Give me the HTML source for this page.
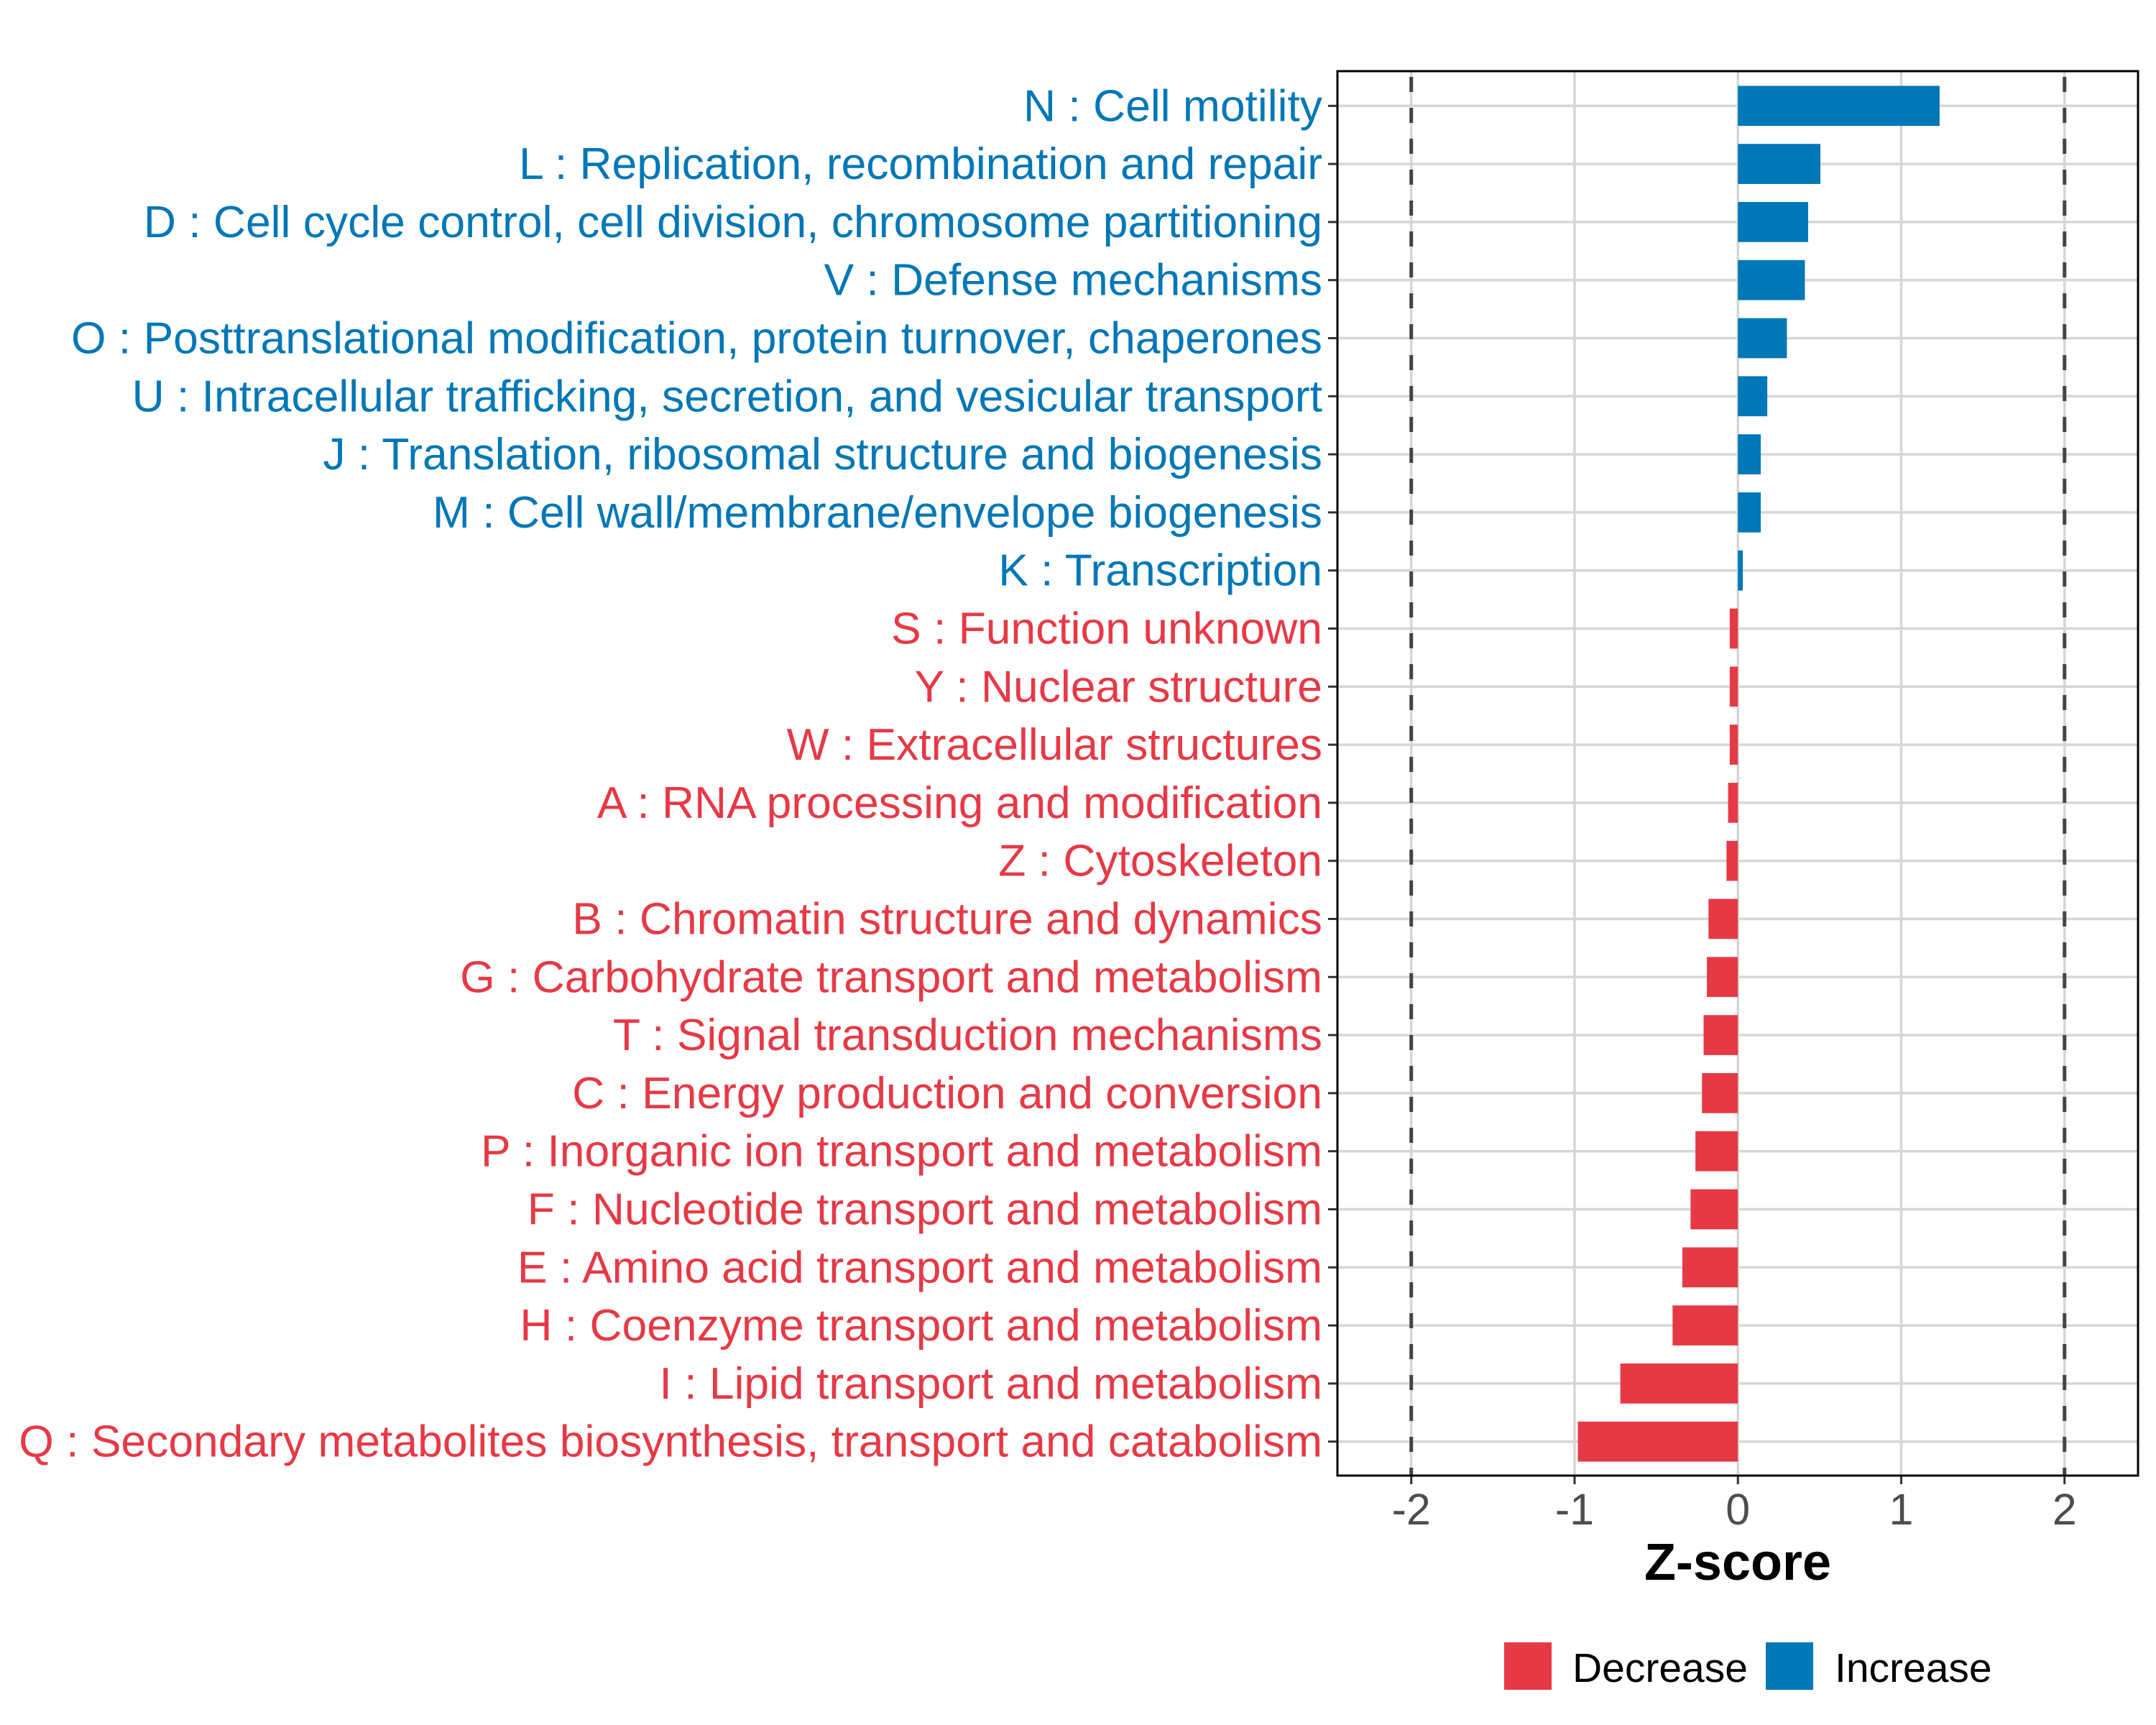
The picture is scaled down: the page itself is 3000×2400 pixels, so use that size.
<!DOCTYPE html>
<html><head><meta charset="utf-8"><style>
html,body{margin:0;padding:0;background:#fff;}
svg{display:block;font-family:"Liberation Sans",sans-serif;}
</style></head><body>
<svg id="chart" width="3000" height="2400" viewBox="0 0 3000 2400" xmlns="http://www.w3.org/2000/svg">
<rect width="3000" height="2400" fill="#fff"/>
<g id="grid"></g>
<g id="bars"></g>
<g id="ylabels"></g>
<g id="xaxis"></g>
<rect x="1861" y="99" width="1114" height="1954" fill="none" stroke="#000" stroke-width="3"/>
<text x="2418" y="2198" font-size="72" font-weight="bold" text-anchor="middle">Z-score</text>
<g>
<rect x="2093" y="2285" width="66" height="66" fill="#E63946"/>
<text x="2188" y="2340" font-size="57">Decrease</text>
<rect x="2457" y="2285" width="66" height="66" fill="#0077B6"/>
<text x="2553" y="2340" font-size="57">Increase</text>
</g>
</svg>
<script>
const categories = ["N : Cell motility","L : Replication, recombination and repair","D : Cell cycle control, cell division, chromosome partitioning","V : Defense mechanisms","O : Posttranslational modification, protein turnover, chaperones","U : Intracellular trafficking, secretion, and vesicular transport","J : Translation, ribosomal structure and biogenesis","M : Cell wall/membrane/envelope biogenesis","K : Transcription","S : Function unknown","Y : Nuclear structure","W : Extracellular structures","A : RNA processing and modification","Z : Cytoskeleton","B : Chromatin structure and dynamics","G : Carbohydrate transport and metabolism","T : Signal transduction mechanisms","C : Energy production and conversion","P : Inorganic ion transport and metabolism","F : Nucleotide transport and metabolism","E : Amino acid transport and metabolism","H : Coenzyme transport and metabolism","I : Lipid transport and metabolism","Q : Secondary metabolites biosynthesis, transport and catabolism"];
const zscores = [1.235,0.505,0.43,0.41,0.30,0.18,0.14,0.14,0.03,-0.05,-0.05,-0.05,-0.06,-0.07,-0.18,-0.19,-0.21,-0.22,-0.26,-0.29,-0.34,-0.40,-0.72,-0.98];
const xTicks = [-2,-1,0,1,2];
const xTickLabels = ["-2","-1","0","1","2"];
const cutoffs = [-2,2];

const NS="http://www.w3.org/2000/svg";
const X0=1861,X1=2975,Y0=99,Y1=2053;
const xmin=-2.452,xmax=2.45;
function xs(v){return X0+(v-xmin)/(xmax-xmin)*(X1-X0);}
const rowTop=147.3,rowStep=80.8;
function ys(i){return rowTop+i*rowStep;}
function mk(tag,attrs,parent){const e=document.createElementNS(NS,tag);for(const k in attrs)e.setAttribute(k,attrs[k]);parent.appendChild(e);return e;}
const grid=document.getElementById('grid'),bars=document.getElementById('bars'),yl=document.getElementById('ylabels'),xa=document.getElementById('xaxis');
categories.forEach((c,i)=>{
  const l=mk('line',{x1:X0,x2:X1,y1:ys(i),y2:ys(i),stroke:'#d6d6d6','stroke-width':3.5},grid);
  
  
});
xTicks.forEach(v=>{
  const l=mk('line',{x1:xs(v),x2:xs(v),y1:Y0,y2:Y1,stroke:'#d6d6d6','stroke-width':3.5},grid);
  
  
});
cutoffs.forEach(v=>{
  const l=mk('line',{x1:xs(v),x2:xs(v),y1:Y0,y2:Y1,stroke:'#444','stroke-width':5,'stroke-dasharray':'21 22','stroke-dashoffset':'-8'},grid);
  
  
});
categories.forEach((c,i)=>{
  const v=zscores[i],col=v>=0?'#0077B6':'#E63946';
  const h=55.7;
  const r=mk('rect',{x:Math.min(xs(0),xs(v)),y:ys(i)-h/2,width:Math.abs(xs(v)-xs(0)),height:h,fill:col},bars);
  
  
  const t=mk('text',{x:1840,y:ys(i)+21,'font-size':62.4,'text-anchor':'end',fill:col},yl);
  t.textContent=c;
  
  
  const tk=mk('line',{x1:1848,x2:X0,y1:ys(i),y2:ys(i),stroke:'#333','stroke-width':3},yl);
  
  
});
xTicks.forEach((v,i)=>{
  const tk=mk('line',{x1:xs(v),x2:xs(v),y1:Y1,y2:Y1+12,stroke:'#333','stroke-width':3},xa);
  
  
  const t=mk('text',{x:xs(v),y:2121,'font-size':61,'text-anchor':'middle',fill:'#4d4d4d'},xa);
  t.textContent=xTickLabels[i];
  
  
});
</script>
</body></html>
